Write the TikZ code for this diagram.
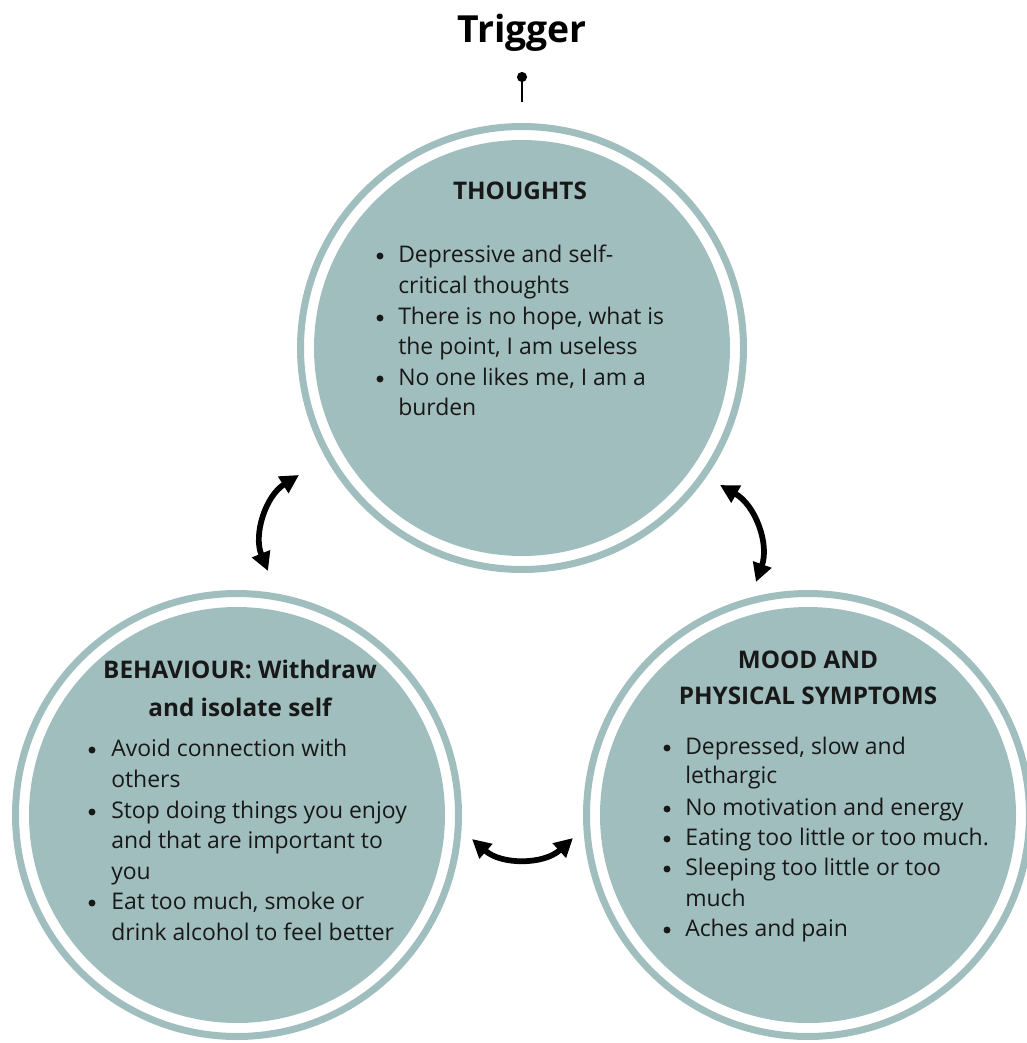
\documentclass[tikz,border=0pt]{standalone}
\usepackage{fontspec}
\setmainfont{Open Sans}
\usetikzlibrary{arrows.meta}
\definecolor{sage}{RGB}{159,190,189}
\definecolor{ink}{RGB}{24,24,24}
\tikzset{
  ring/.style={circle,draw=sage,line width=5.25pt,minimum size=332.25pt,inner sep=0pt},
  disc/.style={circle,fill=sage,minimum size=312pt,inner sep=0pt},
  head/.style={font=\fontsize{18.2}{22}\selectfont\bfseries,text=ink,anchor=base,inner sep=0pt},
  item/.style={font=\fontsize{17.2}{20}\selectfont,text=ink,anchor=base west,inner sep=0pt},
  dot/.style={circle,fill=ink,inner sep=0pt,minimum size=5.2pt},
  loop/.style={line width=4.3pt,{Triangle[length=14pt,width=14pt]}-{Triangle[length=14pt,width=14pt]}}
}
\begin{document}
\begin{tikzpicture}[x=0.75pt,y=-0.75pt]
\useasboundingbox (0,0) rectangle (1027,1043);

% three circles
\node[ring] (tring) at (522,348) {};
\node[disc] (thoughts) at (522,348) {};
\node[ring] (bring) at (237,815) {};
\node[disc] (behaviour) at (237,815) {};
\node[ring] (mring) at (808,815) {};
\node[disc] (mood) at (808,815) {};

% trigger
\node[font=\fontsize{28}{32}\selectfont\bfseries,text=black,anchor=base,inner sep=0pt] (trigger) at (522,42) {Trigger};
\coordinate (pin) at (522,77);
\coordinate (pinend) at (522,102);
\draw[line width=2.2pt,black] (pin) -- (pinend);
\fill[black] (pin) circle (3.8pt);

% thoughts
\node[head] (th) at (520,199) {THOUGHTS};
\node[dot] (t1b) at (380,256) {};
\node[item] (t1) at (398,262) {Depressive and self-};
\node[item] (t1c) at (398,293) {critical thoughts};
\node[dot] (t2b) at (380,318) {};
\node[item] (t2) at (398,324) {There is no hope, what is};
\node[item] (t2c) at (398,354) {the point, I am useless};
\node[dot] (t3b) at (380,379) {};
\node[item] (t3) at (398,385) {No one likes me, I am a};
\node[item] (t3c) at (398,415) {burden};

% behaviour
\node[head] (bh1) at (240,678) {BEHAVIOUR: Withdraw};
\node[head] (bh2) at (240,716) {and isolate self};
\node[dot] (b1b) at (92,750) {};
\node[item] (b1) at (111,756) {Avoid connection with};
\node[item] (b1c) at (111,787) {others};
\node[dot] (b2b) at (92,812) {};
\node[item] (b2) at (111,818) {Stop doing things you enjoy};
\node[item] (b2c) at (111,848) {and that are important to};
\node[item] (b2d) at (111,879) {you};
\node[dot] (b3b) at (92,903) {};
\node[item] (b3) at (111,909) {Eat too much, smoke or};
\node[item] (b3c) at (111,940) {drink alcohol to feel better};

% mood and physical symptoms
\node[head] (mh1) at (808,668) {MOOD AND};
\node[head] (mh2) at (808,704) {PHYSICAL SYMPTOMS};
\node[dot] (m1b) at (667,748) {};
\node[item] (m1) at (685,754) {Depressed, slow and};
\node[item] (m1c) at (685,783) {lethargic};
\node[dot] (m2b) at (667,809) {};
\node[item] (m2) at (685,815) {No motivation and energy};
\node[dot] (m3b) at (667,839) {};
\node[item] (m3) at (685,845) {Eating too little or too much.};
\node[dot] (m4b) at (667,869) {};
\node[item] (m4) at (685,875) {Sleeping too little or too};
\node[item] (m4c) at (685,906) {much};
\node[dot] (m5b) at (667,930) {};
\node[item] (m5) at (685,936) {Aches and pain};

% two-way arrows between the circles
\coordinate (a1s) at (268,571);
\coordinate (a1e) at (299,475);
\coordinate (a2s) at (720,485);
\coordinate (a2e) at (756,582);
\coordinate (a3s) at (472,839);
\coordinate (a3e) at (573,838);
\draw[loop] (a1s) to[bend left=40] (a1e);
\draw[loop] (a2s) to[bend left=40] (a2e);
\draw[loop] (a3s) to[bend right=42] (a3e);
\end{tikzpicture}
\end{document}
